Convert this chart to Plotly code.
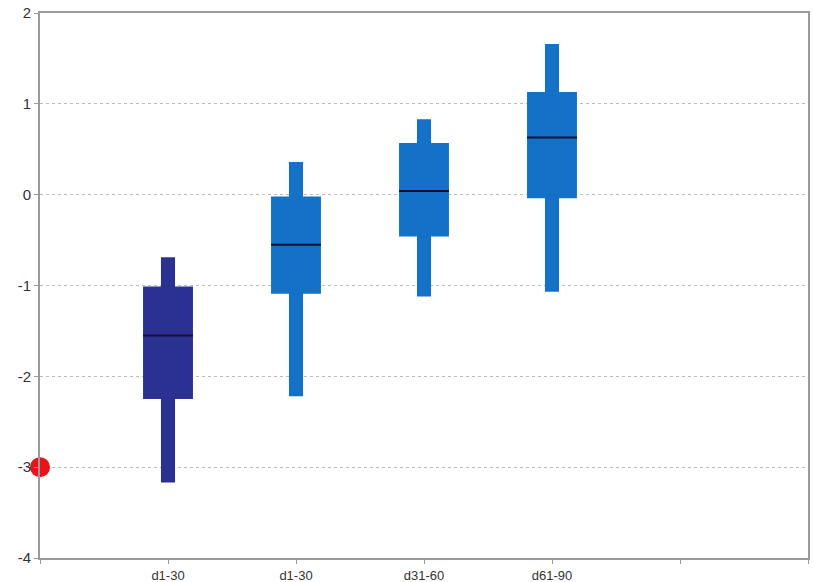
import plotly.graph_objects as go

# Box-and-whisker summaries per period
positions = [1, 2, 3, 4]
tick_labels = ["d1-30", "d1-30", "d31-60", "d61-90"]
whisker_low = [-3.17, -2.22, -1.12, -1.07]
q1 = [-2.25, -1.09, -0.46, -0.04]
median = [-1.55, -0.55, 0.04, 0.63]
q3 = [-1.01, -0.02, 0.57, 1.13]
whisker_high = [-0.69, 0.36, 0.83, 1.66]
colors = ["#2B3190", "#1471C5", "#1471C5", "#1471C5"]

# Y-axis ticks, written with a plain hyphen
y_ticks = [-4, -3, -2, -1, 0, 1, 2]
y_tick_labels = ["-4", "-3", "-2", "-1", "0", "1", "2"]

# Single reference point
point_x = [0]
point_y = [-3]

box_w = 0.39
whisk_w = 0.11

fig = go.Figure()

fig.add_trace(go.Bar(
    x=positions,
    y=[h - l for h, l in zip(whisker_high, whisker_low)],
    base=whisker_low,
    width=whisk_w,
    marker=dict(color=colors, line=dict(width=0)),
    hoverinfo="skip",
))
fig.add_trace(go.Bar(
    x=positions,
    y=[b - a for a, b in zip(q1, q3)],
    base=q1,
    width=box_w,
    marker=dict(color=colors, line=dict(width=0)),
    hoverinfo="skip",
))

mx, my = [], []
for p, m in zip(positions, median):
    mx += [p - box_w / 2, p + box_w / 2, None]
    my += [m, m, None]
fig.add_trace(go.Scatter(
    x=mx, y=my, mode="lines",
    line=dict(color="#111133", width=2),
    hoverinfo="skip",
))

fig.add_trace(go.Scatter(
    x=point_x, y=point_y, mode="markers",
    marker=dict(color="#E8141B", size=20, line=dict(width=0)),
    cliponaxis=False,
))

axis_common = dict(
    showline=True, linecolor="#9A9A9A", linewidth=2, mirror=True,
    ticks="outside", ticklen=4, tickcolor="#9A9A9A", tickwidth=1,
    zeroline=False, automargin=False,
)

fig.update_layout(
    width=813, height=582,
    margin=dict(l=40, r=5, t=13, b=24),
    paper_bgcolor="white", plot_bgcolor="white",
    showlegend=False,
    barmode="overlay",
    xaxis=dict(
        range=[0, 6],
        tickvals=[0, 1, 2, 3, 4, 5, 6],
        ticktext=[""] + tick_labels + ["", ""],
        showgrid=False,
        ticklabelstandoff=0,
        tickfont=dict(family="Liberation Sans, Arial, sans-serif", size=13, color="#333333"),
        **axis_common,
    ),
    yaxis=dict(
        range=[-4, 2],
        tickvals=y_ticks,
        ticktext=y_tick_labels,
        showgrid=True, gridcolor="#BBBBBB", griddash="dot", gridwidth=1,
        tickfont=dict(family="Liberation Sans, Arial, sans-serif", size=15, color="#333333"),
        **axis_common,
    ),
)

fig.write_html("out.html")
